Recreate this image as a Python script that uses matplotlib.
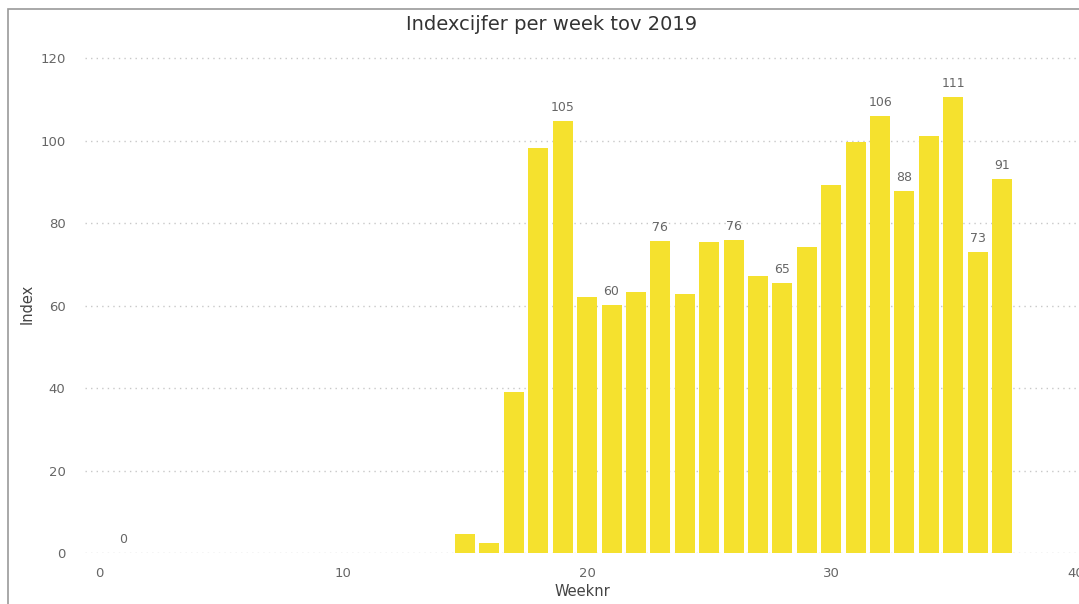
import numpy as np
import matplotlib.pyplot as plt
from matplotlib.patches import Rectangle

# weeks and index values
weeks = [1] + list(range(15, 38))
index = [0, 4.6, 2.4, 39.0, 98.2, 104.7, 62.2, 60.2, 63.2, 75.8, 62.8, 75.4, 76.0,
         67.2, 65.4, 74.2, 89.2, 99.8, 106.0, 87.8, 101.2, 110.6, 73.0, 90.7]
# weeks that carry a data label
labelled = [1, 19, 21, 23, 26, 28, 32, 33, 35, 36, 37]

bar_color = '#F5E12E'
grey = '#666666'

fig = plt.figure(figsize=(10.79, 6.04), dpi=100)
fig.patches.append(Rectangle((8 / 1079, -0.1), 1.2, (604 - 9) / 604 + 0.1,
                             transform=fig.transFigure, fill=False,
                             edgecolor='#9a9a9a', linewidth=1.2))

ax = fig.add_axes([85 / 1079, 51 / 604, 994 / 1079, 498 / 604])
ax.bar(weeks, index, width=0.82, color=bar_color, zorder=2)

for w, v in zip(weeks, index):
    if w in labelled:
        ax.annotate(f'{v:.0f}', (w, v), xytext=(0, 5), textcoords='offset points',
                    ha='center', va='bottom', fontsize=9, color=grey)

ax.set_xlim(-0.57, 40.15)
ax.set_ylim(0, 120.8)
ax.set_xticks([0, 10, 20, 30, 40])
ax.set_yticks([0, 20, 40, 60, 80, 100, 120])
ax.tick_params(axis='both', length=0, colors=grey, labelsize=9.5)
ax.tick_params(axis='y', pad=14)
ax.tick_params(axis='x', pad=10)
ax.grid(axis='y', linestyle=(0, (1, 3)), color='#c8c8c8', linewidth=1, zorder=0)
for s in ax.spines.values():
    s.set_visible(False)

ax.set_xlabel('Weeknr', fontsize=10.5, color='#444444', labelpad=3)
ax.set_ylabel('Index', fontsize=10.5, color='#444444', labelpad=4)
fig.text(552 / 1079, 1 - 25 / 604, 'Indexcijfer per week tov 2019', ha='center',
         va='center', fontsize=14, color='#333333')

fig.savefig('out.png', dpi=100)
